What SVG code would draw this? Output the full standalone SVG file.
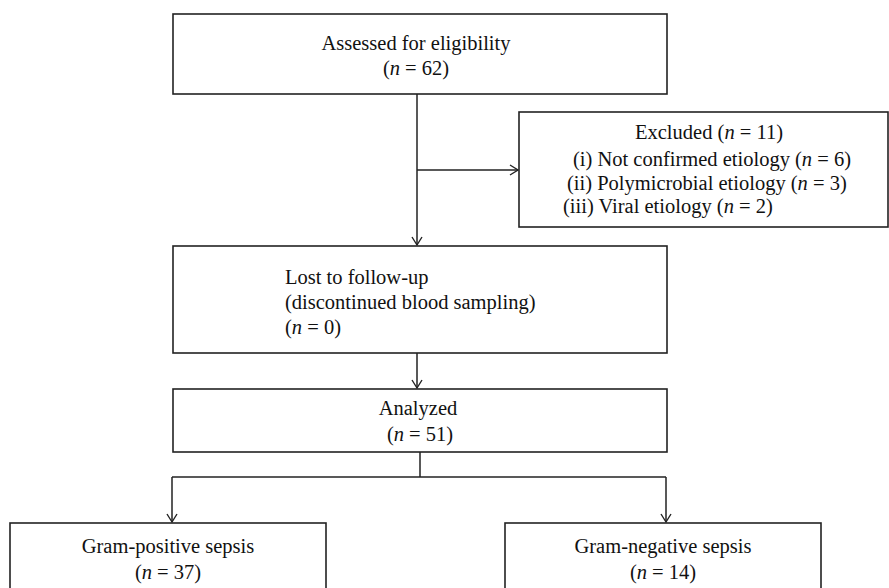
<svg xmlns="http://www.w3.org/2000/svg" width="889" height="588" viewBox="0 0 889 588" font-family="'Liberation Serif', 'Times New Roman', serif">
<defs>
<style>
.box{fill:#fff;stroke:#222;stroke-width:1.6}
.ln{fill:none;stroke:#222;stroke-width:1.5}
text{font-family:'Liberation Serif','Times New Roman',serif;font-size:20.5px;fill:#111}
.c{text-anchor:middle}
.i{font-style:italic}
</style>
<marker id="arr" markerWidth="12" markerHeight="12" refX="9" refY="6" orient="auto" markerUnits="userSpaceOnUse">
<path d="M1,1 L9,6 L1,11" fill="none" stroke="#222" stroke-width="1.4"/>
</marker>
</defs>
<rect width="889" height="588" fill="#fff"/>
<g id="connectors">
<path class="ln" d="M417,94 V245" marker-end="url(#arr)"/>
<path class="ln" d="M417,170 H518" marker-end="url(#arr)"/>
<path class="ln" d="M417,353 V388" marker-end="url(#arr)"/>
<path class="ln" d="M420,452 V477"/>
<path class="ln" d="M172,477 H666"/>
<path class="ln" d="M172,477 V522" marker-end="url(#arr)"/>
<path class="ln" d="M666,477 V522" marker-end="url(#arr)"/>
</g>
<g id="assessed">
<rect class="box" x="173" y="14" width="494" height="80"/>
<text class="c" x="416" y="50">Assessed for eligibility</text>
<text class="c" x="416" y="75">(<tspan class="i">n</tspan> = 62)</text>
</g>
<g id="excluded">
<rect class="box" x="519" y="112" width="369" height="115"/>
<text x="635" y="139">Excluded (<tspan class="i">n</tspan> = 11)</text>
<text x="573" y="166">(i) Not confirmed etiology (<tspan class="i">n</tspan> = 6)</text>
<text x="567" y="190">(ii) Polymicrobial etiology (<tspan class="i">n</tspan> = 3)</text>
<text x="563" y="213">(iii) Viral etiology (<tspan class="i">n</tspan> = 2)</text>
</g>
<g id="lost">
<rect class="box" x="173" y="246" width="494" height="107"/>
<text x="285" y="284">Lost to follow-up</text>
<text x="285" y="309">(discontinued blood sampling)</text>
<text x="285" y="334">(<tspan class="i">n</tspan> = 0)</text>
</g>
<g id="analyzed">
<rect class="box" x="173" y="389" width="494" height="63"/>
<text class="c" x="418" y="415">Analyzed</text>
<text class="c" x="420" y="441">(<tspan class="i">n</tspan> = 51)</text>
</g>
<g id="grampos">
<rect class="box" x="10" y="523" width="316" height="80"/>
<text class="c" x="168" y="553">Gram-positive sepsis</text>
<text class="c" x="168" y="579">(<tspan class="i">n</tspan> = 37)</text>
</g>
<g id="gramneg">
<rect class="box" x="505" y="523" width="316" height="80"/>
<text class="c" x="663" y="553">Gram-negative sepsis</text>
<text class="c" x="663" y="579">(<tspan class="i">n</tspan> = 14)</text>
</g>
</svg>
